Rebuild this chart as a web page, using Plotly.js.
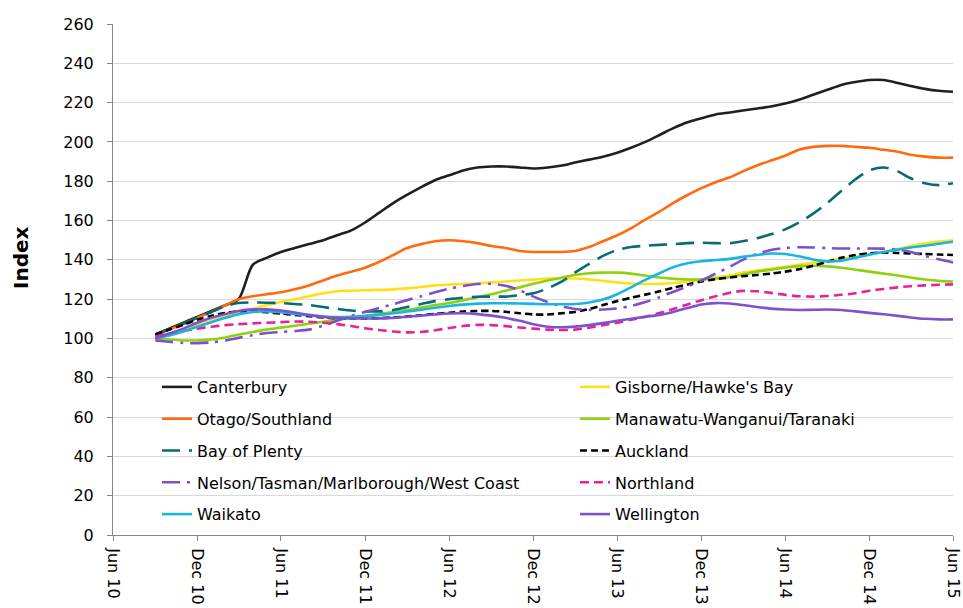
<!DOCTYPE html>
<html>
<head>
<meta charset="utf-8">
<script src="https://cdn.plot.ly/plotly-3.0.1.min.js"></script>
<style>html,body{margin:0;padding:0;background:#fff;}#chart{width:963px;height:608px;}</style>
</head>
<body>
<div id="chart"></div>
<script>
var months = ["2010-09","2010-10","2010-11","2010-12","2011-01","2011-02","2011-03","2011-04","2011-05","2011-06","2011-07","2011-08","2011-09","2011-10","2011-11","2011-12",
"2012-01","2012-02","2012-03","2012-04","2012-05","2012-06","2012-07","2012-08","2012-09","2012-10","2012-11","2012-12",
"2013-01","2013-02","2013-03","2013-04","2013-05","2013-06","2013-07","2013-08","2013-09","2013-10","2013-11","2013-12",
"2014-01","2014-02","2014-03","2014-04","2014-05","2014-06","2014-07","2014-08","2014-09","2014-10","2014-11","2014-12",
"2015-01","2015-02","2015-03","2015-04","2015-05","2015-06"];

var canterbury = [102,105,108,111,114,117,120,137.5,141,144,146,148,150,152.5,155,159,164,169,173,177,180.5,183,185.5,187,187.5,187.5,187,186.5,187,188,189.5,191,192.5,194.5,197,200,203.5,207,210,212,214,215,216,217,218,219.5,221.5,224,226.5,229,230.5,231.5,231.5,230,228.5,227,226,225.5];
var gisborne = [101,102.5,104.5,107,109,111,113,115,117,118.5,120,121.5,123,124,124.3,124.5,124.7,125,125.5,126.2,127,127.4,127.7,128,128.5,129,129.5,130,130.5,130.6,130.5,130,129.3,128.5,128,127.7,127.8,128.2,129,130,131,132,133.5,134.5,135.5,136.5,137.5,138.5,139.5,140.5,141.5,143,144,145.5,147,148.3,149.3,150];
var otago = [102,104.5,107.5,110.5,113.5,117,120,121.5,122.5,123.5,125,127,129.5,132,134,136,139,142.5,146,148,149.5,150,149.5,148.5,147,146,144.5,144,144,144,144.5,146.5,149.5,152.5,156,160.5,164.5,169,173,176.5,179.5,182,185,188,190.5,193,196,197.5,198,198,197.5,197,196,195,193.5,192.5,192,192];
var manawatu = [100,99.5,99,99,99.5,100.5,102,103.3,104.5,105.5,106.5,107.5,108.5,109.5,110.5,111.5,112.5,113.5,114.5,115.7,117,118,119.5,121,122.5,124.3,126,127.8,129.5,131,132.3,133.2,133.5,133.5,133,132,131,130.3,130,130,130.5,131.3,132.5,134,135,136,136.8,137,136.7,136,135,134,133,132,131,130,129.3,129];
var bayOfPlenty = [102,104.5,107.5,110.5,113.5,116.5,118,118.3,118.2,118,117.5,117,116,115,114.2,113.8,113.8,114.5,116,117.5,119,120,120.7,121.2,121.3,121.3,122,123,125.5,129,133.5,138,142,145,146.5,147.2,147.6,148,148.5,148.7,148.5,148.5,149.5,151,153,155.5,159,163.5,169,175,181,185.5,187,185,181.5,179,178,179];
var auckland = [102,104.5,107,109.5,111.5,113,113.8,113.8,113.3,112.7,112,111.3,110.7,110.3,110.2,110.2,110.3,110.7,111.2,111.8,112.5,113.1,113.7,114,114,113.6,112.8,112.2,112.2,112.8,113.5,115,117,119,120.7,122.3,124,125.8,127.5,129,130.2,131,131.7,132.3,133,134,135.2,137,139,141,142.5,143.3,143.7,143.5,143.2,143,142.7,142.5];
var nelson = [99,98.3,97.7,97.6,98,99,100.3,101.7,102.8,103.3,103.8,104.5,106.5,109,111.5,113.5,115.5,117.5,119.5,121.5,123.5,125.3,126.7,127.7,127.8,126.8,124.5,121.3,118.5,116.3,115,114.5,114.7,115.3,116.5,118.5,121,123.8,126.5,129.5,133,136.5,140,143,145,146,146.4,146.3,146,145.8,145.8,145.8,145.7,145.2,144,142,140.3,138.7];
var northland = [101,102.5,103.8,105,106,106.8,107.3,107.7,108,108.3,108.6,108.5,108,107.3,106.3,105.2,104.3,103.5,103.1,103.3,104.2,105.3,106.3,106.9,106.8,106.3,105.6,105,104.5,104.3,104.5,105.5,106.8,108,109.5,111,113,115,117.3,119.5,121.5,123.3,124.2,124,123.2,122.2,121.5,121.3,121.6,122.2,123,124.3,125.2,126,126.6,127,127.3,127.5];
var waikato = [100,101.5,103.5,106,108.3,110.5,112.3,113.5,113.8,113.3,112.5,111.8,111.2,110.9,111,111.4,112,112.8,113.7,114.6,115.6,116.5,117.2,117.7,117.9,117.9,117.8,117.6,117.4,117.4,117.5,118.3,119.8,122.5,126,129.8,133.2,136.3,138.3,139.3,139.9,140.5,141.5,142.5,143.2,143,141.8,140.2,139.2,139.5,141,142.6,144,145.2,146.3,147.2,148.2,149.2];
var wellington = [100,102.5,105,108,110.5,112.5,114,114.8,114.8,114.2,113.2,112,111,110.4,110.2,110.2,110.2,110.5,111,111.6,112.2,112.7,112.8,112.4,111.6,110.5,109,107.2,106,105.7,106,106.8,107.8,109,110,111,112,113.5,115.5,117.3,118,117.8,117,116,115.2,114.7,114.5,114.6,114.7,114.5,113.8,113,112.3,111.5,110.7,110,109.7,109.7];

var tickVals = ["2010-06","2010-12","2011-06","2011-12","2012-06","2012-12","2013-06","2013-12","2014-06","2014-12","2015-06"];
var tickText = ["Jun 10","Dec 10","Jun 11","Dec 11","Jun 12","Dec 12","Jun 13","Dec 13","Jun 14","Dec 14","Jun 15"];

function tr(name, y, color, dash, legend) {
  return {
    x: months, y: y, name: name, type: 'scatter', mode: 'lines',
    line: {color: color, width: 2.6, dash: dash, shape: 'spline', smoothing: 0.8},
    legend: legend, legendgroup: name
  };
}

var data = [
  tr('Canterbury', canterbury, '#1f1f1f', 'solid', 'legend'),
  tr("Gisborne/Hawke's Bay", gisborne, '#ffdf1a', 'solid', 'legend2'),
  tr('Otago/Southland', otago, '#ff6a0d', 'solid', 'legend'),
  tr('Manawatu-Wanganui/Taranaki', manawatu, '#8fd10f', 'solid', 'legend2'),
  tr('Bay of Plenty', bayOfPlenty, '#0a6a74', '18px,9px', 'legend'),
  tr('Auckland', auckland, '#000000', '7px,4px', 'legend2'),
  tr('Nelson/Tasman/Marlborough/West Coast', nelson, '#7d4fc8', '18px,7px,3px,7px', 'legend'),
  tr('Northland', northland, '#e5229b', '9px,5px', 'legend2'),
  tr('Waikato', waikato, '#18b4e3', 'solid', 'legend'),
  tr('Wellington', wellington, '#7f52c9', 'solid', 'legend2')
];

var fontFam = 'DejaVu Sans, Verdana, sans-serif';
var legendBase = {
  orientation: 'v', xref: 'paper', yref: 'paper', xanchor: 'left', yanchor: 'top',
  bgcolor: 'rgba(0,0,0,0)', borderwidth: 0, tracegroupgap: 8,
  font: {family: fontFam, size: 16, color: '#000'}
};

var layout = {
  width: 963, height: 608,
  margin: {l: 113, r: 10, t: 24, b: 73},
  paper_bgcolor: '#fff', plot_bgcolor: '#fff',
  hovermode: false,
  font: {family: fontFam, size: 16, color: '#000'},
  xaxis: {
    type: 'date', range: ['2010-06-01', '2015-06-01'],
    tickvals: tickVals, ticktext: tickText, tickangle: 90,
    showgrid: false, zeroline: false, showline: true, linecolor: '#868686', linewidth: 1,
    ticks: 'outside', ticklen: 5, tickcolor: '#868686',
    tickfont: {family: fontFam, size: 16, color: '#000'},
    automargin: false, ticklabelstandoff: 4
  },
  yaxis: {
    range: [0, 260], dtick: 20, tick0: 0,
    showgrid: true, gridcolor: '#d9d9d9', gridwidth: 1, zeroline: false,
    showline: true, linecolor: '#868686', linewidth: 1,
    ticks: 'outside', ticklen: 5, tickcolor: '#868686',
    tickfont: {family: fontFam, size: 16, color: '#000'},
    automargin: false, ticklabelstandoff: 10
  },
  legend: Object.assign({}, legendBase, {x: (157 - 113) / 840, y: (535 - 370) / 511}),
  legend2: Object.assign({}, legendBase, {x: (575 - 113) / 840, y: (535 - 370) / 511}),
  annotations: [{
    text: '<b>Index</b>', xref: 'paper', yref: 'paper',
    x: (20.5 - 113) / 840, y: (535 - 257.5) / 511,
    xanchor: 'center', yanchor: 'middle', textangle: -90, showarrow: false,
    font: {family: fontFam, size: 20, color: '#000'}
  }]
};

Plotly.newPlot('chart', data, layout, {staticPlot: true, displayModeBar: false});
</script>
</body>
</html>
